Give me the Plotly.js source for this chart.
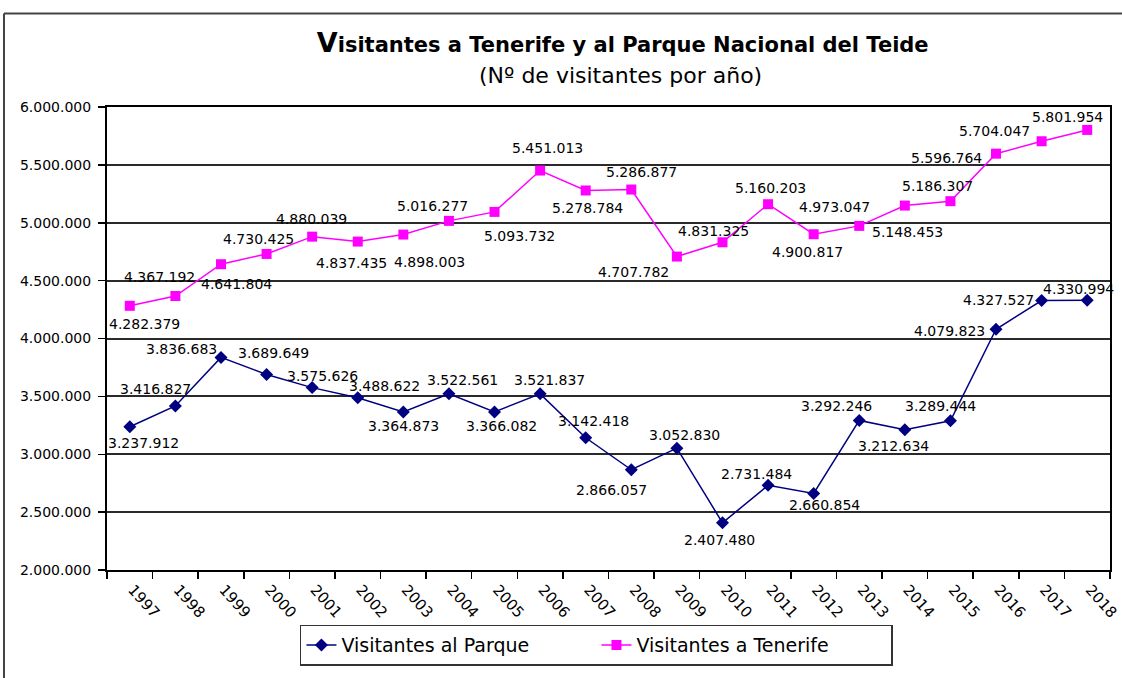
<!DOCTYPE html>
<html>
<head>
<meta charset="utf-8">
<script src="https://cdn.plot.ly/plotly-3.0.1.min.js"></script>
<style>
html,body{margin:0;padding:0;background:#fff;}
#chart{width:1122px;height:678px;}
</style>
</head>
<body>
<div id="chart"></div>
<script>
// ---- data ----
const years = ["1997","1998","1999","2000","2001","2002","2003","2004","2005","2006","2007","2008","2009","2010","2011","2012","2013","2014","2015","2016","2017","2018"];
const visitantesParque = [3237912,3416827,3836683,3689649,3575626,3488622,3364873,3522561,3366082,3521837,3142418,2866057,3052830,2407480,2731484,2660854,3292246,3212634,3289444,4079823,4327527,4330994];
const visitantesTenerife = [4282379,4367192,4641804,4730425,4880039,4837435,4898003,5016277,5093732,5451013,5278784,5286877,4707782,4831325,5160203,4900817,4973047,5148453,5186307,5596764,5704047,5801954];
const seriesNames = ["Visitantes al Parque","Visitantes a Tenerife"];
const titleText = "Visitantes a Tenerife y al Parque Nacional del Teide";
const subtitleText = "(Nº de visitantes por año)";

// ---- label placement (style: pixel offsets of each data label) ----
const parqueLabelShift = [[14,-16],[-20,17],[-39,8],[7,21],[10,12],[27,12],[0,-14],[14,14],[7,-14],[9,14],[8,17],[-20,-20],[8,13],[-3,-17],[-12,11],[11,-11],[-23,14],[-11,-16],[-10,15],[-47,-2],[-43,1],[-9,11]];
const tenerifeLabelShift = [[15,-18],[-16,19],[16,-20],[-8,15],[-1,18],[-6,-21],[26,-27],[-16,15],[25,-24],[7,23],[2,-18],[10,18],[-43,-15],[-9,11],[2,16],[-6,-18],[-25,19],[3,-26],[-13,15],[-50,-4],[-47,10],[-20,13]];

function fmt(v){ return String(v).replace(/\B(?=(\d{3})+(?!\d))/g, "."); }

const FONT = "DejaVu Sans, Arial, sans-serif";

const traces = [
  {x: years, y: visitantesParque, name: seriesNames[0], type: "scatter", mode: "lines+markers",
   line: {color: "#000080", width: 1.5}, marker: {symbol: "diamond", size: 10, color: "#000080"}},
  {x: years, y: visitantesTenerife, name: seriesNames[1], type: "scatter", mode: "lines+markers",
   line: {color: "#FF00FF", width: 1.5}, marker: {symbol: "square", size: 10, color: "#FF00FF"}}
];

const annotations = [];
function addLabels(vals, shifts){
  vals.forEach((v,i)=>{
    // category axis: annotation x is the category's serial index
    annotations.push({x: i, y: v, xref: "x", yref: "y", text: fmt(v), showarrow: false,
      xshift: shifts[i][0], yshift: shifts[i][1], font: {family: FONT, size: 14, color: "#000"}});
  });
}
addLabels(visitantesParque, parqueLabelShift);
addLabels(visitantesTenerife, tenerifeLabelShift);
annotations.push({text: subtitleText, xref: "paper", yref: "paper", x: 0.512, y: 1.0687, xanchor: "center", yanchor: "middle",
  showarrow: false, font: {family: FONT, size: 22, color: "#000"}});

const layout = {
  width: 1122, height: 678,
  paper_bgcolor: "#fff", plot_bgcolor: "#fff",
  margin: {l: 107, r: 12, t: 107, b: 105},
  separators: ",.",
  showlegend: true,
  title: {text: "<span style=\"font-size:27px\">V</span>" + titleText.slice(1), x: 0.555, xanchor: "center", y: 0.934, yanchor: "middle",
          font: {family: FONT, size: 21, color: "#000", weight: "bold"}},
  xaxis: {type: "category", range: [-0.5, years.length - 0.5], autorange: false, tickson: "boundaries", ticks: "outside", ticklen: 7, tickcolor: "#000", tickwidth: 1.5,
          tickangle: 48, tickfont: {family: FONT, size: 15, color: "#000"}, ticklabelshift: 3, ticklabelstandoff: 3,
          showline: true, linecolor: "#000", linewidth: 2, mirror: true, showgrid: false, zeroline: false},
  yaxis: {range: [2000000, 6000000], autorange: false, dtick: 500000, tickformat: ",d", ticks: "outside", ticklen: 7, tickcolor: "#000", tickwidth: 1.5,
          tickfont: {family: FONT, size: 14, color: "#000"}, ticklabelstandoff: 4,
          showline: true, linecolor: "#000", linewidth: 2, mirror: true,
          showgrid: true, gridcolor: "#2a2a2a", gridwidth: 2, zeroline: false},
  legend: {orientation: "h", x: 0.488, xanchor: "center", y: -0.118, yanchor: "top",
           bordercolor: "#333", borderwidth: 1.5, bgcolor: "#fff", entrywidth: 250,
           font: {family: FONT, size: 19, color: "#000"}},
  annotations: annotations,
  shapes: [
    {type: "line", xref: "paper", yref: "paper", x0: -0.1027, x1: 1.02, y0: 1.2017, y1: 1.2017, line: {color: "#444", width: 2}},
    {type: "line", xref: "paper", yref: "paper", x0: -0.1027, x1: -0.1027, y0: 1.2017, y1: -0.25, line: {color: "#444", width: 2}}
  ]
};

Plotly.newPlot("chart", traces, layout, {displayModeBar: false, staticPlot: true});
</script>
</body>
</html>
